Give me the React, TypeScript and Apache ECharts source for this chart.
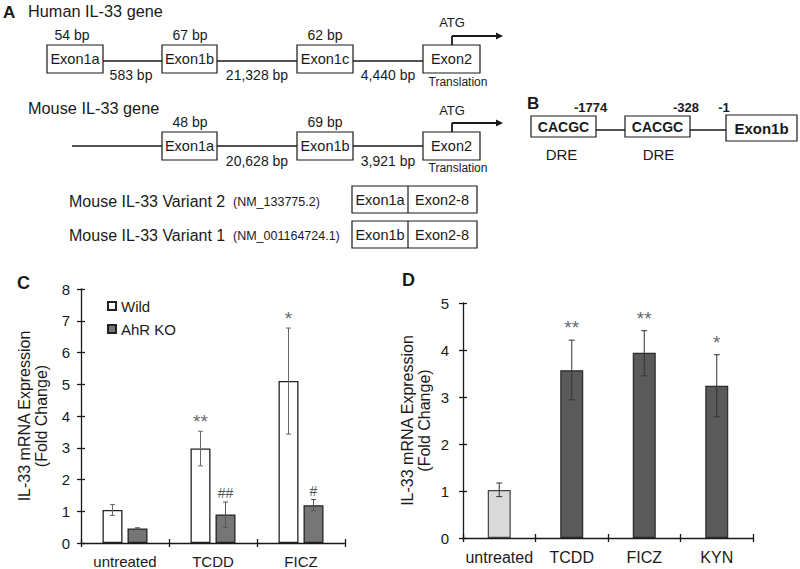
import React, { useEffect, useRef } from "react";
import * as echarts from "echarts";

// ---- Panel C data ----
const cCategories = ["untreated", "TCDD", "FICZ"];
const cWild = [1.04, 2.98, 5.1];
const cWildLow = [0.87, 2.43, 3.43];
const cWildHigh = [1.21, 3.52, 6.77];
const cWildSig = ["", "**", "*"];
const cKO = [0.46, 0.9, 1.19];
const cKOLow = [0.44, 0.49, 1.02];
const cKOHigh = [0.48, 1.29, 1.37];
const cKOSig = ["", "##", "#"];
const cTicks = [0, 1, 2, 3, 4, 5, 6, 7, 8];

// ---- Panel D data ----
const dCategories = ["untreated", "TCDD", "FICZ", "KYN"];
const dValues = [1.02, 3.57, 3.94, 3.24];
const dLow = [0.88, 2.94, 3.45, 2.58];
const dHigh = [1.17, 4.21, 4.41, 3.9];
const dSig = ["", "**", "**", "*"];
const dTicks = [0, 1, 2, 3, 4, 5];

const FONT = "'Liberation Sans', Arial, sans-serif";
const INK = "#1a1a1a";

function errRender(offset: number, capHalf: number, sigs: string[], gap: number, starSize: number, errColor: string) {
  return (params: any, api: any) => {
    const idx = api.value(0);
    const x = api.coord([idx, 0])[0] + offset;
    const lo = api.coord([idx, api.value(1)])[1];
    const hi = api.coord([idx, api.value(2)])[1];
    const st = { stroke: errColor, lineWidth: 1 };
    const children: any[] = [
      { type: "line", shape: { x1: x, y1: lo, x2: x, y2: hi }, style: st },
      { type: "line", shape: { x1: x - capHalf, y1: hi, x2: x + capHalf, y2: hi }, style: st },
      { type: "line", shape: { x1: x - capHalf, y1: lo, x2: x + capHalf, y2: lo }, style: st },
    ];
    const s = sigs[params.dataIndex];
    if (s) {
      const isHash = s.indexOf("#") >= 0;
      children.push({
        type: "text",
        style: {
          text: s,
          x,
          y: hi - (isHash ? 2 : gap),
          textAlign: "center",
          textVerticalAlign: "bottom",
          fontSize: isHash ? 14 : starSize,
          fontFamily: FONT,
          fill: isHash ? "#555" : "#6a6a6a",
        },
      });
    }
    return { type: "group", children };
  };
}

function txt(x: number, y: number, text: string, size: number, extra: any = {}) {
  return {
    type: "text",
    x,
    y,
    style: {
      text,
      fontSize: size,
      fontFamily: FONT,
      fill: INK,
      textAlign: extra.align || "center",
      textVerticalAlign: "middle",
      fontWeight: extra.bold ? "bold" : "normal",
    },
    z: 20,
  };
}
function box(x1: number, y1: number, x2: number, y2: number) {
  return {
    type: "rect",
    shape: { x: x1, y: y1, width: x2 - x1, height: y2 - y1 },
    style: { fill: "#fff", stroke: INK, lineWidth: 1.2 },
    z: 15,
  };
}
function ln(x1: number, y1: number, x2: number, y2: number, w = 1.6, z = 10) {
  return { type: "line", shape: { x1, y1, x2, y2 }, style: { stroke: INK, lineWidth: w }, z };
}
function arrow(x: number, yBottom: number, yTop: number, xEnd: number) {
  return [
    ln(x, yBottom, x, yTop, 1.8),
    ln(x, yTop, xEnd - 4, yTop, 1.8),
    {
      type: "polygon",
      shape: { points: [[xEnd - 6, yTop - 3.5], [xEnd + 1, yTop], [xEnd - 6, yTop + 3.5]] },
      style: { fill: INK },
      z: 10,
    },
  ];
}

function buildGraphics() {
  const g: any[] = [];
  // Panel labels
  g.push(txt(3, 12, "A", 17, { align: "left", bold: true }));
  g.push(txt(527, 103, "B", 17, { align: "left", bold: true }));
  g.push(txt(17, 283, "C", 18, { align: "left", bold: true }));
  g.push(txt(402, 280, "D", 18, { align: "left", bold: true }));

  // Human gene
  g.push(txt(28, 11, "Human IL-33 gene", 16.3, { align: "left" }));
  g.push(ln(47, 61, 423, 61));
  const hBoxes: [number, number, string][] = [[47, 103, "Exon1a"], [162, 217, "Exon1b"], [297, 353, "Exon1c"], [423, 480, "Exon2"]];
  hBoxes.forEach(([a, b, t]) => { g.push(box(a, 45, b, 73)); g.push(txt((a + b) / 2, 59, t, 14.5)); });
  g.push(txt(72, 35, "54 bp", 14));
  g.push(txt(190, 35, "67 bp", 14));
  g.push(txt(325, 35, "62 bp", 14));
  g.push(txt(131, 75, "583 bp", 14));
  g.push(txt(257, 75, "21,328 bp", 14));
  g.push(txt(388, 75, "4,440 bp", 14));
  g.push(txt(452, 22, "ATG", 13));
  g.push(txt(458, 82, "Translation", 12));
  g.push(...arrow(452, 45, 36, 502));

  // Mouse gene
  g.push(txt(28, 108, "Mouse IL-33 gene", 16.3, { align: "left" }));
  g.push(ln(72, 146, 423, 146));
  const mBoxes: [number, number, string][] = [[162, 217, "Exon1a"], [297, 353, "Exon1b"], [423, 480, "Exon2"]];
  mBoxes.forEach(([a, b, t]) => { g.push(box(a, 132, b, 160)); g.push(txt((a + b) / 2, 146, t, 14.5)); });
  g.push(txt(190, 122, "48 bp", 14));
  g.push(txt(325, 122, "69 bp", 14));
  g.push(txt(257, 161, "20,628 bp", 14));
  g.push(txt(388, 161, "3,921 bp", 14));
  g.push(txt(452, 110, "ATG", 13));
  g.push(txt(458, 168, "Translation", 12));
  g.push(...arrow(452, 132, 123, 502));

  // Variants
  g.push(txt(69, 201, "Mouse IL-33 Variant 2", 16, { align: "left" }));
  g.push(txt(233, 202, "(NM_133775.2)", 12.5, { align: "left" }));
  g.push(box(352, 186, 477, 213));
  g.push(ln(408, 186, 408, 213, 1.2, 16));
  g.push(txt(380, 200, "Exon1a", 14.5));
  g.push(txt(442, 200, "Exon2-8", 14.5));
  g.push(txt(69, 235, "Mouse IL-33 Variant 1", 16, { align: "left" }));
  g.push(txt(233, 236, "(NM_001164724.1)", 12.5, { align: "left" }));
  g.push(box(352, 221, 477, 248));
  g.push(ln(408, 221, 408, 248, 1.2, 16));
  g.push(txt(380, 235, "Exon1b", 14.5));
  g.push(txt(442, 235, "Exon2-8", 14.5));

  // Panel B
  g.push(ln(596, 130, 726, 130));
  g.push(box(531, 116, 596, 137));
  g.push(box(625, 116, 690, 137));
  g.push(box(726, 115, 797, 141));
  g.push(txt(563.5, 127, "CACGC", 14, { bold: true }));
  g.push(txt(657.5, 127, "CACGC", 14, { bold: true }));
  g.push(txt(761.5, 128, "Exon1b", 15, { bold: true }));
  g.push(txt(590.5, 107, "-1774", 13, { bold: true }));
  g.push(txt(686, 107, "-328", 13, { bold: true }));
  g.push(txt(724, 107, "-1", 13, { bold: true }));
  g.push(txt(561.5, 154, "DRE", 15));
  g.push(txt(658.5, 154, "DRE", 15));
  return g;
}

function valueAxis(gridIndex: number, max: number, labelMargin: number, inside: boolean, withName: boolean) {
  return {
    type: "value",
    gridIndex,
    min: 0,
    max,
    interval: 1,
    position: "left",
    name: withName ? "IL-33 mRNA Expression\n(Fold Change)" : "",
    nameLocation: "middle",
    nameGap: gridIndex === 0 ? 31 : 30,
    nameTextStyle: { fontSize: 16, lineHeight: 17, color: INK, fontFamily: FONT },
    splitLine: { show: false },
    axisLine: { show: !inside, lineStyle: { color: INK, width: 1.3 } },
    axisTick: { show: true, inside, length: 4, lineStyle: { color: INK, width: 1.3 } },
    axisLabel: {
      show: !inside,
      margin: labelMargin,
      fontSize: 15,
      color: INK,
      fontFamily: FONT,
      formatter: (v: number) => {
        const ticks = gridIndex === 0 ? cTicks : dTicks;
        return ticks.indexOf(v) >= 0 ? String(v) : "";
      },
    },
  };
}

function catAxis(gridIndex: number, cats: string[], inside: boolean, fontSize: number, margin: number) {
  return {
    type: "category",
    gridIndex,
    data: cats,
    position: "bottom",
    axisLine: { show: !inside, lineStyle: { color: INK, width: 1.3 } },
    axisTick: { show: true, inside, length: 4, lineStyle: { color: INK, width: 1.3 } },
    axisLabel: { show: !inside, interval: 0, fontSize, color: INK, fontFamily: FONT, margin },
    splitLine: { show: false },
  };
}

export default function App() {
  const ref = useRef<HTMLDivElement>(null);
  useEffect(() => {
    document.body.style.margin = "0";
    if (!ref.current) return;
    const chart = echarts.init(ref.current, undefined, { renderer: "svg" });
    const option: any = {
      animation: false,
      backgroundColor: "#ffffff",
      textStyle: { fontFamily: FONT },
      grid: [
        { left: 81, top: 289, width: 264, height: 254, containLabel: false },
        { left: 463, top: 303, width: 290, height: 235, containLabel: false },
      ],
      xAxis: [
        catAxis(0, cCategories, false, 15, 11),
        catAxis(0, cCategories, true, 15, 11),
        catAxis(1, dCategories, false, 16, 11),
        catAxis(1, dCategories, true, 16, 11),
      ],
      yAxis: [
        valueAxis(0, 8, 11, false, true),
        valueAxis(0, 8, 11, true, false),
        valueAxis(1, 5, 14, false, true),
        valueAxis(1, 5, 14, true, false),
      ],
      legend: {
        data: ["Wild", "AhR KO"],
        orient: "vertical",
        left: 102,
        top: 293,
        itemWidth: 8,
        itemHeight: 8,
        itemGap: 7,
        icon: "rect",
        textStyle: { fontSize: 15, color: INK, fontFamily: FONT, lineHeight: 16 },
      },
      series: [
        {
          name: "Wild",
          type: "bar",
          xAxisIndex: 0,
          yAxisIndex: 0,
          data: cWild,
          barWidth: 20,
          barGap: "25%",
          itemStyle: { color: "#ffffff", borderColor: "#222", borderWidth: 1.3 },
        },
        {
          name: "AhR KO",
          type: "bar",
          xAxisIndex: 0,
          yAxisIndex: 0,
          data: cKO,
          barWidth: 20,
          barGap: "25%",
          itemStyle: { color: "#767676", borderColor: "#222", borderWidth: 1.3 },
        },
        {
          type: "custom",
          xAxisIndex: 0,
          yAxisIndex: 0,
          z: 10,
          renderItem: errRender(-12.5, 2.5, cWildSig, 0, 19, "#666"),
          encode: { x: 0, y: [1, 2] },
          data: cWild.map((_, i) => [i, cWildLow[i], cWildHigh[i]]),
        },
        {
          type: "custom",
          xAxisIndex: 0,
          yAxisIndex: 0,
          z: 10,
          renderItem: errRender(12.5, 2.5, cKOSig, 0, 19, "#555"),
          encode: { x: 0, y: [1, 2] },
          data: cKO.map((_, i) => [i, cKOLow[i], cKOHigh[i]]),
        },
        {
          name: "D",
          type: "bar",
          xAxisIndex: 2,
          yAxisIndex: 2,
          barWidth: 23,
          data: dValues.map((v, i) => ({
            value: v,
            itemStyle: i === 0
              ? { color: "#dadada", borderColor: "#444", borderWidth: 1.2 }
              : { color: "#5a5a5a", borderColor: "#2a2a2a", borderWidth: 1.2 },
          })),
        },
        {
          type: "custom",
          xAxisIndex: 2,
          yAxisIndex: 2,
          z: 10,
          renderItem: errRender(0, 3, dSig, 3, 19, "#333"),
          encode: { x: 0, y: [1, 2] },
          data: dValues.map((_, i) => [i, dLow[i], dHigh[i]]),
        },
      ],
      graphic: { elements: buildGraphics() },
    };
    chart.setOption(option);
    return () => chart.dispose();
  }, []);
  return <div ref={ref} style={{ width: 800, height: 569 }} />;
}
